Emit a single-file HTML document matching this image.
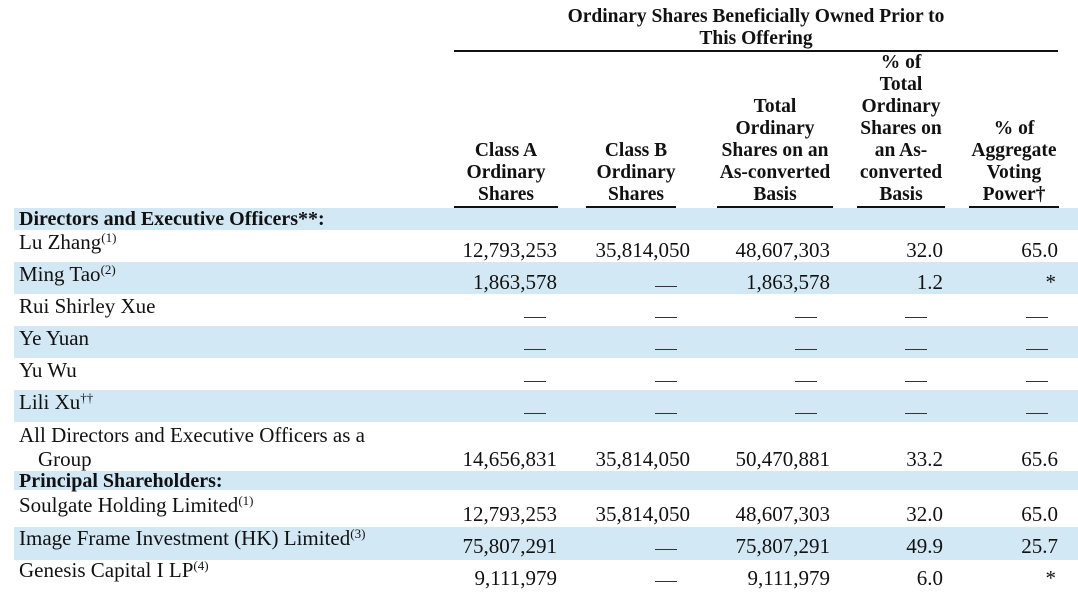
<!DOCTYPE html>
<html><head><meta charset="utf-8"><style>
body{margin:0;width:1078px;height:604px;background:#fff;position:relative;overflow:hidden;font-family:"Liberation Serif",serif;font-size:21px;color:#111}
.b{position:absolute;left:14px;width:1064px;background:#d3e8f5}
.t{position:absolute;white-space:nowrap;line-height:22px}
.h{position:absolute;text-align:center;font-weight:bold;font-size:19.5px;line-height:22px;white-space:nowrap}
.r{position:absolute;text-align:right;white-space:nowrap;line-height:22px}
.u{position:absolute;height:2px;background:#111}
sup{font-size:13px;vertical-align:7px;line-height:0}
.d{position:absolute;height:1px;width:22px;background:#333}
</style></head><body>
<div class="h" style="left:454px;width:604px;top:6px">Ordinary Shares Beneficially Owned Prior to<br>This Offering</div>
<div class="u" style="left:454px;width:604px;top:50px"></div>
<div class="h" style="left:454px;width:104px;top:140px">Class A<br>Ordinary<br>Shares</div>
<div class="h" style="left:584px;width:104px;top:140px">Class B<br>Ordinary<br>Shares</div>
<div class="h" style="left:712px;width:126px;top:96px">Total<br>Ordinary<br>Shares on an<br>As-converted<br>Basis</div>
<div class="h" style="left:852px;width:98px;top:52px">% of<br>Total<br>Ordinary<br>Shares on<br>an As-<br>converted<br>Basis</div>
<div class="h" style="left:964px;width:100px;top:118px">% of<br>Aggregate<br>Voting<br>Power†</div>
<div class="u" style="left:454px;width:104px;top:206px"></div>
<div class="u" style="left:586px;width:90px;top:206px"></div>
<div class="u" style="left:717px;width:116px;top:206px"></div>
<div class="u" style="left:857px;width:88px;top:206px"></div>
<div class="u" style="left:969px;width:90px;top:206px"></div>

<div class="b" style="top:208px;height:22px"></div>
<div class="b" style="top:262px;height:32px"></div>
<div class="b" style="top:326px;height:32px"></div>
<div class="b" style="top:390px;height:32px"></div>
<div class="b" style="top:471px;height:19px"></div>
<div class="b" style="top:527px;height:33px"></div>

<div class="t" style="left:19px;top:208px;font-weight:bold;font-size:20px">Directors and Executive Officers**:</div>
<div class="t" style="left:19px;top:231px">Lu Zhang<sup>(1)</sup></div>
<div class="t" style="left:19px;top:263px">Ming Tao<sup>(2)</sup></div>
<div class="t" style="left:19px;top:295px">Rui Shirley Xue</div>
<div class="t" style="left:19px;top:327px">Ye Yuan</div>
<div class="t" style="left:19px;top:359px">Yu Wu</div>
<div class="t" style="left:19px;top:391px">Lili Xu<sup>††</sup></div>
<div class="t" style="left:19px;top:424px">All Directors and Executive Officers as a</div>
<div class="t" style="left:38px;top:448px">Group</div>
<div class="t" style="left:19px;top:470px;font-weight:bold;font-size:20px">Principal Shareholders:</div>
<div class="t" style="left:19px;top:494px">Soulgate Holding Limited<sup>(1)</sup></div>
<div class="t" style="left:19px;top:527px">Image Frame Investment (HK) Limited<sup>(3)</sup></div>
<div class="t" style="left:19px;top:559px">Genesis Capital I LP<sup>(4)</sup></div>

<div class="r" style="right:521px;top:239px">12,793,253</div>
<div class="r" style="right:388px;top:239px">35,814,050</div>
<div class="r" style="right:248px;top:239px">48,607,303</div>
<div class="r" style="right:135px;top:239px">32.0</div>
<div class="r" style="right:20px;top:239px">65.0</div>

<div class="r" style="right:521px;top:271px">1,863,578</div>
<div class="d" style="left:655px;top:286px"></div>
<div class="r" style="right:248px;top:271px">1,863,578</div>
<div class="r" style="right:135px;top:271px">1.2</div>
<div class="r" style="right:22px;top:271px">*</div>

<div class="r" style="right:521px;top:448px">14,656,831</div>
<div class="r" style="right:388px;top:448px">35,814,050</div>
<div class="r" style="right:248px;top:448px">50,470,881</div>
<div class="r" style="right:135px;top:448px">33.2</div>
<div class="r" style="right:20px;top:448px">65.6</div>

<div class="r" style="right:521px;top:503px">12,793,253</div>
<div class="r" style="right:388px;top:503px">35,814,050</div>
<div class="r" style="right:248px;top:503px">48,607,303</div>
<div class="r" style="right:135px;top:503px">32.0</div>
<div class="r" style="right:20px;top:503px">65.0</div>

<div class="r" style="right:521px;top:535px">75,807,291</div>
<div class="d" style="left:655px;top:549px"></div>
<div class="r" style="right:248px;top:535px">75,807,291</div>
<div class="r" style="right:135px;top:535px">49.9</div>
<div class="r" style="right:20px;top:535px">25.7</div>

<div class="r" style="right:521px;top:567px">9,111,979</div>
<div class="d" style="left:655px;top:581px"></div>
<div class="r" style="right:248px;top:567px">9,111,979</div>
<div class="r" style="right:135px;top:567px">6.0</div>
<div class="r" style="right:22px;top:567px">*</div>

<div class="d" style="left:524px;top:317px"></div><div class="d" style="left:655px;top:317px"></div><div class="d" style="left:795px;top:317px"></div><div class="d" style="left:905px;top:317px"></div><div class="d" style="left:1026px;top:317px"></div>
<div class="d" style="left:524px;top:349px"></div><div class="d" style="left:655px;top:349px"></div><div class="d" style="left:795px;top:349px"></div><div class="d" style="left:905px;top:349px"></div><div class="d" style="left:1026px;top:349px"></div>
<div class="d" style="left:524px;top:381px"></div><div class="d" style="left:655px;top:381px"></div><div class="d" style="left:795px;top:381px"></div><div class="d" style="left:905px;top:381px"></div><div class="d" style="left:1026px;top:381px"></div>
<div class="d" style="left:524px;top:413px"></div><div class="d" style="left:655px;top:413px"></div><div class="d" style="left:795px;top:413px"></div><div class="d" style="left:905px;top:413px"></div><div class="d" style="left:1026px;top:413px"></div>
</body></html>
